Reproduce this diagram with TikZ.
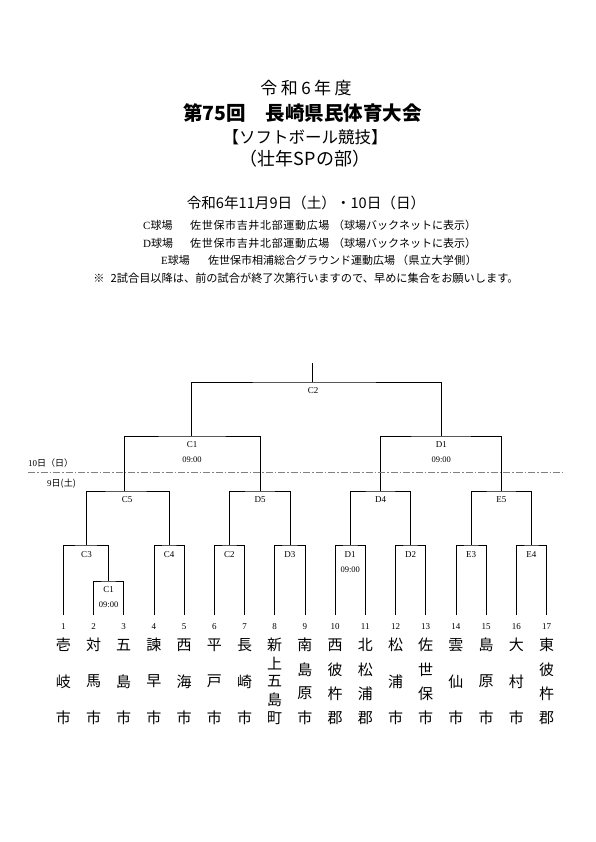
\documentclass[tikz,border=0pt]{standalone}
\usepackage{fontspec}
\setmainfont{Liberation Serif}
\newfontfamily\jp{Noto Sans CJK JP}
\begin{document}
\begin{tikzpicture}[x=1pt,y=-1pt,
  ln/.style={line width=0.6pt, black},
  lbl/.style={font=\fontsize{9}{9}\selectfont, inner sep=0pt},
  tim/.style={font=\fontsize{8.5}{8.5}\selectfont, inner sep=0pt},
  num/.style={font=\fontsize{9}{9}\selectfont, inner sep=0pt},
  tch/.style={font=\jp\fontsize{15}{15}\selectfont, inner sep=0pt},
  ven/.style={font=\jp\fontsize{11}{11}\selectfont, inner sep=0pt, anchor=west},
  dl/.style={font=\jp\fontsize{9}{9}\selectfont, inner sep=0pt}]
\fill[white] (0,0) rectangle (595,842);
\useasboundingbox (0,0) rectangle (595,842);

% header
\node[inner sep=0pt, font=\jp\addfontfeature{LetterSpace=20}\fontsize{17}{17}\selectfont] (h1) at (306,88.5) {令和6年度};
\node[inner sep=0pt, font=\jp\bfseries\fontsize{19.5}{19.5}\selectfont] (h2) at (302.5,113) {第75回　長崎県民体育大会};
\node[inner sep=0pt, font=\jp\fontsize{16.5}{16.5}\selectfont] (h3) at (305,137) {【ソフトボール競技】};
\node[inner sep=0pt, font=\jp\fontsize{18}{18}\selectfont] (h4) at (305,159) {（壮年SPの部）};
\node[inner sep=0pt, font=\jp\fontsize{14.6}{14.6}\selectfont] (h5) at (306,203.3) {令和6年11月9日（土）・10日（日）};

\node[ven] (vc1) at (143,225) {{\rmfamily C}球場};
\node[ven, font=\jp\addfontfeature{LetterSpace=6}\fontsize{11}{11}\selectfont] (vc2) at (190,225) {佐世保市吉井北部運動広場};
\node[ven] (vc3) at (333,225) {（球場バックネットに表示）};
\node[ven] (vd1) at (143,243.3) {{\rmfamily D}球場};
\node[ven, font=\jp\addfontfeature{LetterSpace=6}\fontsize{11}{11}\selectfont] (vd2) at (190,243.3) {佐世保市吉井北部運動広場};
\node[ven] (vd3) at (333,243.3) {（球場バックネットに表示）};
\node[ven] (ve1) at (161,260.7) {{\rmfamily E}球場};
\node[ven] (ve2) at (208,260.7) {佐世保市相浦総合グラウンド運動広場};
\node[ven, font=\jp\addfontfeature{LetterSpace=4}\fontsize{11}{11}\selectfont] (ve3) at (397,260.7) {（県立大学側）};
\node[inner sep=0pt, font=\jp\fontsize{11.2}{11.2}\selectfont] (note) at (306,278) {※\hspace{6pt}2試合目以降は、前の試合が終了次第行いますので、早めに集合をお願いします。};

% teams
\foreach \i in {1,...,17} {
  \coordinate (b\i) at ({63.3+30.2*(\i-1)},615);
  \node[num] (n\i) at ({63.3+30.2*(\i-1)},626.7) {\i};
}
\foreach \i/\nm/\len in {1/{壱,岐,市}/3, 2/{対,馬,市}/3, 3/{五,島,市}/3, 4/{諫,早,市}/3, 5/{西,海,市}/3, 6/{平,戸,市}/3, 7/{長,崎,市}/3, 8/{新,上,五,島,町}/5, 9/{南,島,原,市}/4, 10/{西,彼,杵,郡}/4, 11/{北,松,浦,郡}/4, 12/{松,浦,市}/3, 13/{佐,世,保,市}/4, 14/{雲,仙,市}/3, 15/{島,原,市}/3, 16/{大,村,市}/3, 17/{東,彼,杵,郡}/4} {
  \foreach \c [count=\k from 0] in \nm {
    \node[tch] (t\i-\k) at ({63.3+30.2*(\i-1)},{645+\k*73/(\len-1)}) {\c};
  }
}

% match junctions
\coordinate (m1s) at (108.6,581);
\coordinate (mC3) at (86,545);
\coordinate (mC4) at (169,545);
\coordinate (mC2) at (229.4,545);
\coordinate (mD3) at (289.8,545);
\coordinate (mD1) at (350.2,545);
\coordinate (mD2) at (410.6,545);
\coordinate (mE3) at (471,545);
\coordinate (mE4) at (531.4,545);
\coordinate (mC5) at (124,491);
\coordinate (mD5) at (260,491);
\coordinate (mD4) at (380.5,491);
\coordinate (mE5) at (501.3,491);
\coordinate (mC1) at (191.7,436);
\coordinate (mD1b) at (441.3,436);
\coordinate (mF) at (312.3,382);
\coordinate (top) at (312.3,363);

\draw[ln] (b2) |- (m1s) -| (b3);
\draw[ln] (b1) |- (mC3) -| (m1s);
\draw[ln] (b4) |- (mC4) -| (b5);
\draw[ln] (b6) |- (mC2) -| (b7);
\draw[ln] (b8) |- (mD3) -| (b9);
\draw[ln] (b10) |- (mD1) -| (b11);
\draw[ln] (b12) |- (mD2) -| (b13);
\draw[ln] (b14) |- (mE3) -| (b15);
\draw[ln] (b16) |- (mE4) -| (b17);
\draw[ln] (mC3) |- (mC5) -| (mC4);
\draw[ln] (mC2) |- (mD5) -| (mD3);
\draw[ln] (mD1) |- (mD4) -| (mD2);
\draw[ln] (mE3) |- (mE5) -| (mE4);
\draw[ln] (mC5) |- (mC1) -| (mD5);
\draw[ln] (mD4) |- (mD1b) -| (mE5);
\draw[ln] (mC1) |- (mF) -| (mD1b);
\draw[ln] (mF) -- (top);

% labels
\node[lbl] (lF) at (313,390.7) {C2};
\node[lbl] (lC1) at (192,445) {C1};
\node[tim] (tC1) at (192,460) {09:00};
\node[lbl] (lD1b) at (441.3,445) {D1};
\node[tim] (tD1b) at (441.3,460) {09:00};
\node[lbl] (lC5) at (127,500) {C5};
\node[lbl] (lD5) at (260,500) {D5};
\node[lbl] (lD4) at (380.5,500) {D4};
\node[lbl] (lE5) at (501.3,500) {E5};
\node[lbl] (lC3) at (86.5,554.3) {C3};
\node[lbl] (lC4) at (169,554.3) {C4};
\node[lbl] (lC2) at (229.4,554.3) {C2};
\node[lbl] (lD3) at (289.8,554.3) {D3};
\node[lbl] (lD1) at (350.2,554.3) {D1};
\node[tim] (tD1) at (350.2,570) {09:00};
\node[lbl] (lD2) at (410.6,554.3) {D2};
\node[lbl] (lE3) at (471,554.3) {E3};
\node[lbl] (lE4) at (531.4,554.3) {E4};
\node[lbl] (l1s) at (108.6,590) {C1};
\node[tim] (t1s) at (108.6,605) {09:00};

% day divider
\coordinate (dvl) at (28,472.7);
\coordinate (dvr) at (563,472.7);
\draw[line width=0.6pt, gray, dash pattern=on 7pt off 2pt on 1.5pt off 2pt] (dvl) -- (dvr);
\node[dl, anchor=west] (d10) at (28,463.3) {{\rmfamily 10}日（日）};
\node[dl, anchor=east] (d9) at (76,483.3) {{\rmfamily 9}日({\jp 土})};
\end{tikzpicture}
\end{document}
